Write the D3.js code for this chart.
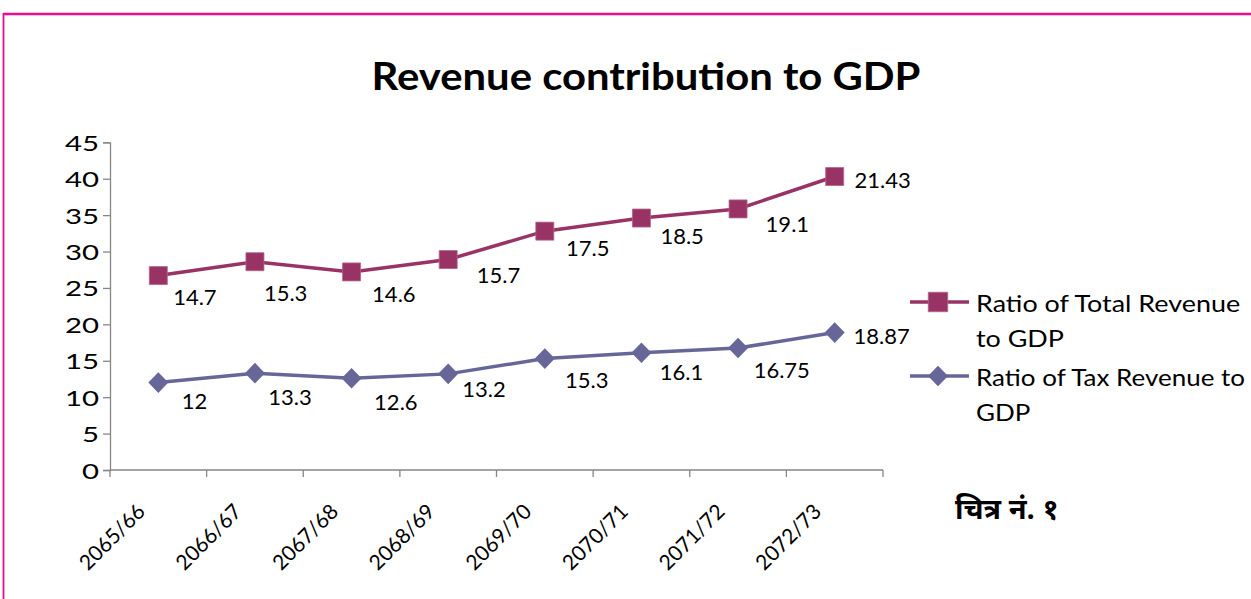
<!DOCTYPE html>
<html>
<head>
<meta charset="utf-8">
<script src="https://cdn.jsdelivr.net/npm/d3@7"></script>
<style>
  html, body { margin: 0; padding: 0; background: #fff; }
  svg { display: block; }
  text { font-family: Lato, "Open Sans", sans-serif; fill: #000; }
</style>
</head>
<body>
<svg id="chart" width="1251" height="599"></svg>
<script>
// ---- data ----
const categories = ["2065/66", "2066/67", "2067/68", "2068/69", "2069/70", "2070/71", "2071/72", "2072/73"];
const taxRevenue = [12, 13.3, 12.6, 13.2, 15.3, 16.1, 16.75, 18.87];      // Ratio of Tax Revenue to GDP
const totalRevenue = [14.7, 15.3, 14.6, 15.7, 17.5, 18.5, 19.1, 21.43];   // Ratio of Total Revenue to GDP (stacked)
const yTicks = [0, 5, 10, 15, 20, 25, 30, 35, 40, 45];
const seriesNames = ["Ratio of Total Revenue to GDP", "Ratio of Tax Revenue to GDP"];
const titleText = "Revenue contribution to GDP";
const captionText = "चित्र नं. १";

// ---- label placement (layout only) ----
const totalLabelOffset = [[36.6, 21.7], [30.7, 31.3], [42.3, 22], [50.3, 15.7], [43, 17.3], [40.7, 18.3], [49.3, 15.3], [48, 4]];
const taxLabelOffset = [[36.3, 18.3], [35, 24.3], [44.3, 24], [35.8, 15], [42, 21.7], [40, 19.7], [43.7, 21.7], [47, 3]];

const colTotal = "#993366", colTax = "#666699", axisCol = "#868686";

const svg = d3.select("#chart");

// border
svg.append("line").attr("x1", 3).attr("x2", 1251).attr("y1", 14).attr("y2", 14)
  .attr("stroke", "#EC0C8C").attr("stroke-width", 2.4);
svg.append("line").attr("x1", 3.5).attr("x2", 3.5).attr("y1", 13).attr("y2", 599)
  .attr("stroke", "#EC0C8C").attr("stroke-width", 1.8);

// scales
const x = d3.scaleBand().domain(categories).range([110, 883]);
const y = d3.scaleLinear().domain([0, 45]).range([470, 142.3]);

// stacked data
const rows = categories.map((c, i) => ({ cat: c, tax: taxRevenue[i], total: totalRevenue[i] }));
const stack = d3.stack().keys(["tax", "total"])(rows);
const taxPts = stack[0].map((d, i) => ({ x: x(categories[i]) + x.bandwidth() / 2, y: y(d[1]), v: taxRevenue[i] }));
const totPts = stack[1].map((d, i) => ({ x: x(categories[i]) + x.bandwidth() / 2, y: y(d[1]), v: totalRevenue[i] }));

// title
svg.append("text").attr("text-anchor", "middle")
  .attr("transform", "translate(646,90) scale(1.1,1)")
  .style("font-weight", "bold").style("font-size", "38px").text(titleText);

// y axis
const yAxis = svg.append("g").attr("transform", "translate(110,0)")
  .call(d3.axisLeft(y).tickValues(yTicks).tickSize(7).tickFormat(d3.format("d")));
yAxis.select(".domain").attr("stroke", axisCol).attr("stroke-width", 1.3);
yAxis.selectAll(".tick line").attr("stroke", axisCol).attr("stroke-width", 1.3);
yAxis.selectAll(".tick text")
  .attr("x", null).attr("dy", null)
  .attr("transform", "translate(-11,8) scale(1.4,1)")
  .attr("text-anchor", "end")
  .style("font-size", "21px").style("font-family", "Lato, sans-serif").attr("fill", "#000");

// x axis (ticks at category boundaries)
const xg = svg.append("g");
xg.append("line").attr("x1", x.range()[0]).attr("x2", x.range()[1])
  .attr("y1", y(0)).attr("y2", y(0)).attr("stroke", axisCol).attr("stroke-width", 1.3);
const bounds = categories.map(c => x(c)).concat([x.range()[1]]);
xg.selectAll("line.tk").data(bounds).enter().append("line").attr("class", "tk")
  .attr("x1", d => d).attr("x2", d => d).attr("y1", y(0)).attr("y2", y(0) + 7)
  .attr("stroke", axisCol).attr("stroke-width", 1.3);
xg.selectAll("text").data(categories).enter().append("text")
  .attr("text-anchor", "end")
  .attr("transform", d => `translate(${x(d) + x.bandwidth() / 2 - 12},${y(0) + 43}) rotate(-45)`)
  .style("font-size", "21px").text(d => d);

// lines
const line = d3.line().x(d => d.x).y(d => d.y);
svg.append("path").datum(taxPts).attr("d", line).attr("fill", "none")
  .attr("stroke", colTax).attr("stroke-width", 3.5);
svg.append("path").datum(totPts).attr("d", line).attr("fill", "none")
  .attr("stroke", colTotal).attr("stroke-width", 3.5);

// markers
const sq = "M-9,-9H9V9H-9Z";
const dia = "M0,-10.3L10,0L0,10.3L-10,0Z";
svg.selectAll("path.mt").data(totPts).enter().append("path").attr("class", "mt")
  .attr("d", sq).attr("transform", d => `translate(${d.x},${d.y})`)
  .attr("fill", colTotal).attr("stroke", "#b0648a").attr("stroke-width", 0.8);
svg.selectAll("path.mx").data(taxPts).enter().append("path").attr("class", "mx")
  .attr("d", dia).attr("transform", d => `translate(${d.x},${d.y})`)
  .attr("fill", colTax);

// data labels
svg.selectAll("text.lt").data(totPts).enter().append("text").attr("class", "lt")
  .attr("x", (d, i) => d.x + totalLabelOffset[i][0]).attr("y", (d, i) => d.y + totalLabelOffset[i][1])
  .attr("dy", "0.36em").attr("text-anchor", "middle").style("font-size", "22px").text(d => d.v);
svg.selectAll("text.lx").data(taxPts).enter().append("text").attr("class", "lx")
  .attr("x", (d, i) => d.x + taxLabelOffset[i][0]).attr("y", (d, i) => d.y + taxLabelOffset[i][1])
  .attr("dy", "0.36em").attr("text-anchor", "middle").style("font-size", "22px").text(d => d.v);

// legend
const lg = svg.append("g");
const legendItems = [
  { name: seriesNames[0], color: colTotal, sym: "sq", y: 302, sx: 1.17, lines: ["Ratio of Total Revenue", "to GDP"] },
  { name: seriesNames[1], color: colTax, sym: "dia", y: 376, sx: 1.13, lines: ["Ratio of Tax Revenue to", "GDP"] }
];
legendItems.forEach(it => {
  lg.append("line").attr("x1", 910).attr("x2", 969).attr("y1", it.y).attr("y2", it.y)
    .attr("stroke", it.color).attr("stroke-width", 3.5);
  if (it.sym === "sq") {
    lg.append("path").attr("d", sq).attr("transform", `translate(938,${it.y}) scale(1.08)`)
      .attr("fill", it.color).attr("stroke", "#b0648a").attr("stroke-width", 0.8);
  } else {
    lg.append("path").attr("d", dia).attr("transform", `translate(938,${it.y})`)
      .attr("fill", it.color);
  }
  it.lines.forEach((t, k) => {
    lg.append("text").attr("transform", `translate(976,${it.y + 9.5 + k * 35}) scale(${it.sx},1)`)
      .style("font-size", "23px").text(t);
  });
});

// caption
svg.append("text").attr("x", 955).attr("y", 519).style("font-size", "29px").style("font-weight", "bold")
  .style("font-family", "'Noto Sans Devanagari', 'Noto Sans', Lato, sans-serif").text(captionText);
</script>
</body>
</html>
